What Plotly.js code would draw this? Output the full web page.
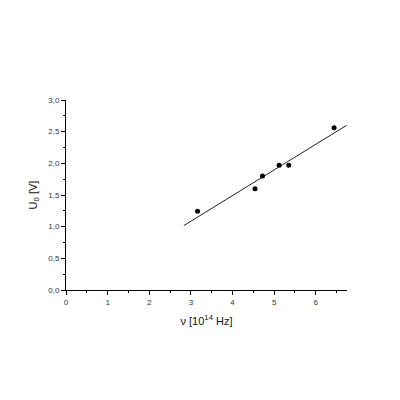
<!DOCTYPE html>
<html><head><meta charset="utf-8">
<script src="https://cdn.plot.ly/plotly-3.0.1.min.js"></script>
<style>body{margin:0;background:#fff}#c{width:400px;height:400px}</style>
</head><body><div id="c"></div>
<script>
const freq = [3.16, 4.54, 4.72, 5.12, 5.35, 6.44];
const voltage = [1.245, 1.60, 1.80, 1.97, 1.97, 2.56];
const fitX = [2.83, 6.74];
const fitY = [1.017, 2.60];

const data = [
  {x: fitX, y: fitY, mode: 'lines', line: {color: '#222', width: 1}, hoverinfo: 'skip'},
  {x: freq, y: voltage, mode: 'markers', marker: {color: '#000', size: 5}}
];
const axisCommon = {
  showgrid: false, zeroline: false, showline: true, linecolor: '#000', linewidth: 1,
  ticks: 'outside', ticklen: 4, tickcolor: '#000', tickwidth: 1,
  tickfont: {family: '"Liberation Sans", Arial, sans-serif', size: 8, color: '#333'},
  mirror: false
};
const layout = {
  width: 400, height: 400, showlegend: false,
  separators: ',.',
  paper_bgcolor: '#fff', plot_bgcolor: '#fff',
  margin: {l: 66, r: 53, t: 100, b: 110},
  font: {family: '"Liberation Sans", Arial, sans-serif'},
  xaxis: Object.assign({}, axisCommon, {
    range: [0, 6.75], dtick: 1, tick0: 0,
    minor: {dtick: 0.5, ticklen: 2, ticks: 'outside', tickcolor: '#000'},
    title: {text: 'ν [10<sup>14</sup> Hz]', font: {size: 11, color: '#111'}, standoff: 11}
  }),
  yaxis: Object.assign({}, axisCommon, {
    range: [0, 3], dtick: 0.5, tick0: 0, tickformat: '.1f',
    minor: {dtick: 0.25, ticklen: 2, ticks: 'outside', tickcolor: '#000'},
    title: {text: 'U<sub>0</sub> [V]', font: {size: 11, color: '#111'}, standoff: 8}
  })
};
Plotly.newPlot('c', data, layout, {displayModeBar: false, staticPlot: true});
</script>
</body></html>
